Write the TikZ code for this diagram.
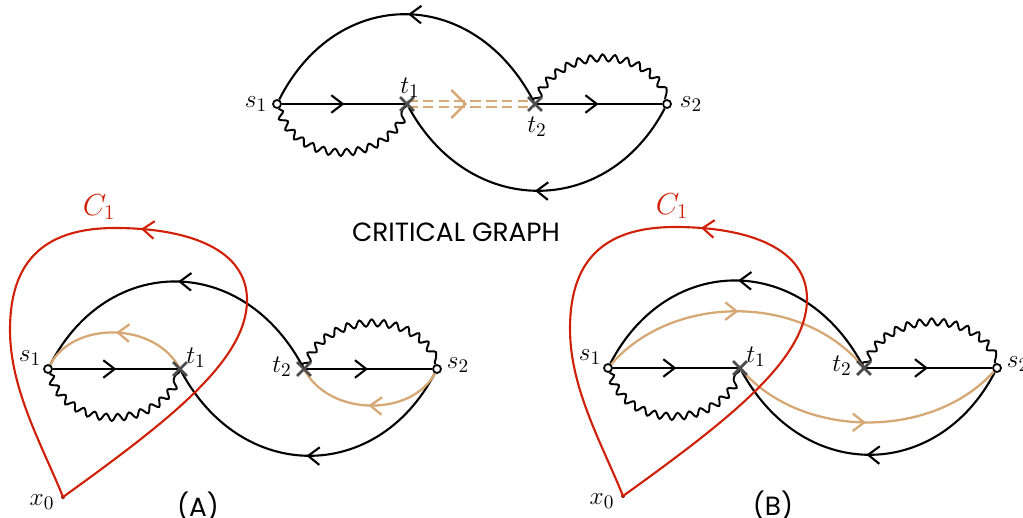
\documentclass[tikz,border=0pt]{standalone}
\usepackage{fontspec}
\newfontfamily\capsfont{Poppins}
\usetikzlibrary{arrows.meta,positioning,decorations.pathmorphing,decorations.markings,shapes.misc}
\definecolor{loopred}{RGB}{208,32,8}
\definecolor{pathtan}{RGB}{214,168,118}
\definecolor{markgray}{RGB}{75,75,75}

\tikzset{
  edge/.style={line width=1.2pt},
  wavy/.style={line width=1.1pt,decorate,decoration={snake,segment length=0.24cm,amplitude=0.07cm}},
  tanedge/.style={pathtan,line width=1.3pt},
  loopedge/.style={loopred,line width=1.2pt},
  midarrow/.style={postaction={decorate,decoration={markings,mark=at position #1 with {\arrow{Straight Barb[length=6.5pt,width=10pt]}}}}},
  midarrow/.default=.5,
  sdot/.style={circle,draw,fill=white,line width=1pt,inner sep=0pt,minimum size=0.16cm},
  tmark/.style={cross out,draw=markgray,line width=1.6pt,inner sep=0pt,minimum size=0.22cm},
  lbl/.style={font=\fontsize{15.5}{18}\selectfont},
  caption/.style={font=\capsfont\fontsize{15}{18}\selectfont},
}

% common part of the two lower panels, #1 = the tan paths
\newcommand\lowerpanel[1]{%
  \node[sdot] (s1) at (48,369) {};
  \coordinate (t1) at (180,369);
  \coordinate (t2) at (304,369);
  \node[sdot] (s2) at (437,369) {};
  \draw[edge,midarrow] (s1) -- (t1);
  \draw[edge,midarrow] (t2) -- (s2);
  \draw[edge,midarrow] (t2) .. controls +(-60,-116) and +(60,-116) .. (s1);
  \draw[edge,midarrow] (s2) .. controls +(-60,115) and +(60,115) .. (t1);
  \draw[wavy] (s1) .. controls +(20,60) and +(-20,60) .. (t1);
  \draw[wavy] (t2) .. controls +(20,-57) and +(-20,-57) .. (s2);
  #1
  % the loop C_1
  \node[circle,fill=loopred!70!black,inner sep=0pt,minimum size=0.08cm] (x0) at (63,497) {};
  \draw[loopedge,midarrow=.53] (x0.center) .. controls +(107,-77) and +(0,60) .. (247,300)
    .. controls +(0,-50) and +(75,0) .. (115,228)
    .. controls +(-75,0) and +(0,-65) .. (10,330)
    .. controls +(0,60) and +(-20,-50) .. (x0.center);
  \node[tmark] (t1m) at (t1) {};
  \node[tmark] (t2m) at (t2) {};
  \node[lbl] (s1l) at (30,358) {$s_1$};
  \node[lbl] (t1l) at (196,358) {$t_1$};
  \node[lbl] (t2l) at (282,367) {$t_2$};
  \node[lbl] (s2l) at (458,365) {$s_2$};
  \node[lbl] (x0l) at (42,502) {$x_0$};
}

\begin{document}
\begin{tikzpicture}[x=0.02cm,y=-0.02cm,>=Latex]
\useasboundingbox (0,0) rectangle (1023,517);

% critical graph
\node[sdot] (s1) at (277,104) {};
\coordinate (t1) at (407,104);
\coordinate (t2) at (535,104);
\node[sdot] (s2) at (667,104) {};
\draw[edge,midarrow] (s1) -- (t1);
\draw[edge,midarrow] (t2) -- (s2);
\draw[edge,midarrow] (t2) .. controls +(-60,-119) and +(60,-119) .. (s1);
\draw[edge,midarrow] (s2) .. controls +(-60,115) and +(60,115) .. (t1);
\draw[wavy] (s1) .. controls +(20,60) and +(-20,60) .. (t1);
\draw[wavy] (t2) .. controls +(20,-57) and +(-20,-57) .. (s2);
\draw[pathtan,line width=1.4pt,dash pattern=on 6pt off 3pt,double=white,double distance=2.2pt] (t1) -- (t2);
\path[postaction={decorate},decoration={markings,mark=at position .47 with
  {\draw[pathtan,line width=1.4pt,-{Straight Barb[length=8pt,width=16pt]}] (-0.5pt,0) -- (0,0);}}] (t1) -- (t2);
\node[tmark] (t1m) at (t1) {};
\node[tmark] (t2m) at (t2) {};
\node[lbl] (s1l) at (256,104) {$s_1$};
\node[lbl] (t1l) at (410,88) {$t_1$};
\node[lbl] (t2l) at (537,127) {$t_2$};
\node[lbl] (s2l) at (691,104) {$s_2$};
\node[caption] (title) at (456,232) {CRITICAL GRAPH};

% panel (A)
\begin{scope}[name prefix=A-]
\lowerpanel{
  \draw[tanedge,midarrow] (t1) .. controls +(-25,-48) and +(25,-48) .. (s1);
  \draw[tanedge,midarrow] (s2) .. controls +(-25,48) and +(25,48) .. (t2);
}
\node[lbl,font=\LARGE,text=loopred] (c1) at (99,207) {$C_1$};
\node[caption] (name) at (198,507) {(A)};
\end{scope}

% panel (B)
\begin{scope}[shift={(560,-1)},name prefix=B-]
\lowerpanel{
  \draw[tanedge,midarrow] (s1) .. controls +(65,-75) and +(-60,-75) .. (t2);
  \draw[tanedge,midarrow] (t1) .. controls +(60,72) and +(-65,72) .. (s2);
}
\node[lbl,font=\LARGE,text=loopred] (c1) at (112,207) {$C_1$};
\node[caption] (name) at (213,507) {(B)};
\end{scope}
\end{tikzpicture}
\end{document}
